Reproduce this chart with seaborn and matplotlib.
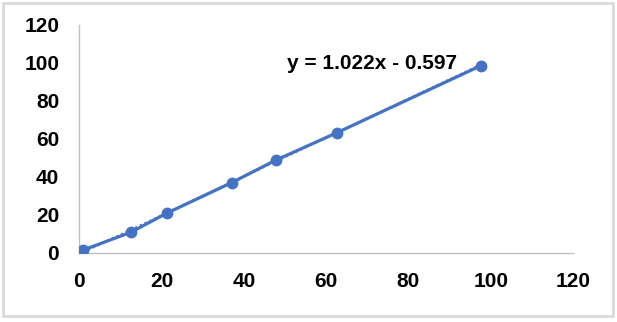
import matplotlib
matplotlib.use("Agg")
import matplotlib.pyplot as plt
import seaborn as sns
import numpy as np
import pandas as pd

x_vals = [1.0, 12.5, 21.4, 37.0, 47.7, 62.6, 97.6]
y_vals = [1.6, 10.9, 21.1, 37.0, 48.8, 63.3, 98.6]
slope = 1.022
intercept = -0.597
equation_label = "y = 1.022x - 0.597"
x_ticks = [0, 20, 40, 60, 80, 100, 120]
y_ticks = [0, 20, 40, 60, 80, 100, 120]

sns.set_theme(style="white")
plt.rcParams['font.family'] = ['Liberation Sans', 'DejaVu Sans']

blue = "#4472C4"
W, H = 617, 322
fig = plt.figure(figsize=(W/100, H/100), dpi=100)
ax = fig.add_axes([79.3/W, 1-253/H, (573-79.3)/W, (253-25)/H])

df = pd.DataFrame({"x": x_vals, "y": y_vals})
sns.lineplot(data=df, x="x", y="y", sort=False, ax=ax, color=blue,
             linewidth=2.3, marker="o", markersize=8.5, markeredgewidth=0,
             zorder=3)
tx = np.array([min(x_vals), max(x_vals)])
ax.plot(tx, slope*tx + intercept, linestyle=(0, (1, 1.5)), color=blue,
        linewidth=1.5, zorder=2)

ax.set_xlim(0, 120)
ax.set_ylim(0, 120)
ax.set_xticks(x_ticks)
ax.set_yticks(y_ticks)
ax.set_xlabel("")
ax.set_ylabel("")
for lab in ax.get_xticklabels() + ax.get_yticklabels():
    lab.set_fontweight("bold")
    lab.set_fontsize(15)
    lab.set_color("black")
ax.tick_params(axis="x", length=0, pad=14)
ax.tick_params(axis="y", length=0, pad=14.5)
for s in ["top", "right"]:
    ax.spines[s].set_visible(False)
for s in ["left", "bottom"]:
    ax.spines[s].set_color("#BFBFBF")
    ax.spines[s].set_linewidth(1.0)

ax.text(50.6, 99.5, equation_label, fontsize=15, fontweight="bold",
        color="black", va="center", ha="left")

fig.patches.append(plt.Rectangle((3/W, 1-316/H), (613-3)/W, (316-3)/H,
                                 transform=fig.transFigure, fill=False,
                                 edgecolor="#D9D9D9", linewidth=2))
fig.savefig("out.png", dpi=100)
